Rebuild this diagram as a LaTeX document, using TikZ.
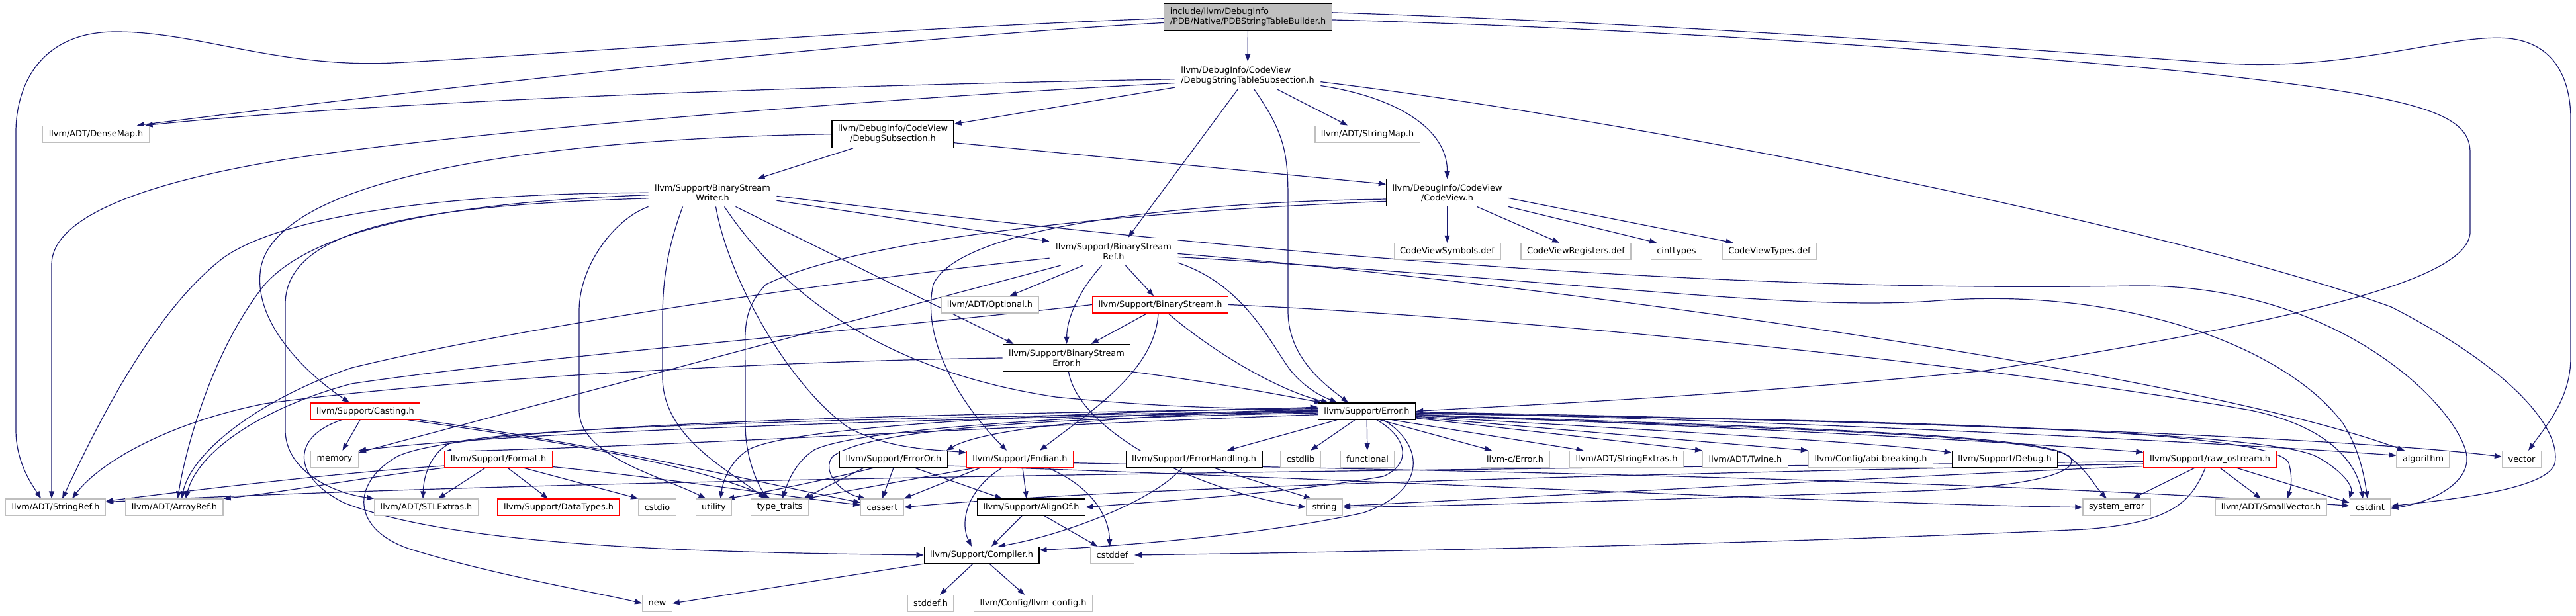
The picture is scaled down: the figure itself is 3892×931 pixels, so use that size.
\documentclass[tikz,border=0pt]{standalone}
\usepackage{fontspec}
\setmainfont{DejaVu Sans}
\usetikzlibrary{arrows.meta, backgrounds}
\definecolor{edgeblue}{HTML}{191970}
\definecolor{sysgray}{HTML}{BFBFBF}

\begin{document}
\begin{tikzpicture}[
    x=1pt, y=-1pt,
    hdr/.style={draw, rectangle, line width=1.3pt, fill=white, inner xsep=9pt, inner ysep=2pt, minimum height=25pt, font=\fontsize{12.86}{15}\selectfont},
    doc/.style={hdr, draw=black},
    trunc/.style={hdr, draw=red},
    sys/.style={hdr, draw=sysgray},
    two/.style={minimum height=41pt, align=center},
    dep/.style={draw=edgeblue, line width=1.2pt, -{Triangle[length=11pt,width=8pt]}}
]
\useasboundingbox (0,0) rectangle (3892,931);

\node[doc, two, fill=sysgray, align=left] (root) at (1885.5,25.5) {include/llvm/DebugInfo\\/PDB/Native/PDBStringTableBuilder.h};
\node[doc, two, align=left] (sub) at (1885,114) {llvm/DebugInfo/CodeView\\/DebugStringTableSubsection.h};

\node[sys] (densemap) at (145,202.7) {llvm/ADT/DenseMap.h};
\node[doc, two] (dsub) at (1349,202.7) {llvm/DebugInfo/CodeView\\/DebugSubsection.h};
\node[sys] (stringmap) at (2066,202.7) {llvm/ADT/StringMap.h};

\node[trunc, two] (writer) at (1076.5,291.3) {llvm/Support/BinaryStream\\Writer.h};
\node[doc, two] (codeview) at (2186.5,291.3) {llvm/DebugInfo/CodeView\\/CodeView.h};

\node[doc, two] (ref) at (1682.5,380) {llvm/Support/BinaryStream\\Ref.h};
\node[sys] (cvsym) at (2186.5,380) {CodeViewSymbols.def};
\node[sys] (cvreg) at (2381,380) {CodeViewRegisters.def};
\node[sys] (cinttypes) at (2533,380) {cinttypes};
\node[sys] (cvtypes) at (2673.5,380) {CodeViewTypes.def};

\node[sys] (optional) at (1495.5,460.5) {llvm/ADT/Optional.h};
\node[trunc] (bstream) at (1753,460.5) {llvm/Support/BinaryStream.h};

\node[doc, two] (bserror) at (1611.5,541) {llvm/Support/BinaryStream\\Error.h};

\node[trunc] (casting) at (552,621.5) {llvm/Support/Casting.h};
\node[doc] (error) at (2065,621.5) {llvm/Support/Error.h};

\node[sys] (memory) at (505.5,694) {memory};
\node[trunc] (format) at (753,694) {llvm/Support/Format.h};
\node[doc] (erroror) at (1350,694) {llvm/Support/ErrorOr.h};
\node[trunc] (endian) at (1541,694) {llvm/Support/Endian.h};
\node[doc] (errhandling) at (1804,694) {llvm/Support/ErrorHandling.h};
\node[sys] (cstdlib) at (1965,694) {cstdlib};
\node[sys] (functional) at (2066,694) {functional};
\node[sys] (cerror) at (2289,694) {llvm-c/Error.h};
\node[sys] (strextras) at (2457.5,694) {llvm/ADT/StringExtras.h};
\node[sys] (twine) at (2637,694) {llvm/ADT/Twine.h};
\node[sys] (abibreak) at (2826.5,694) {llvm/Config/abi-breaking.h};
\node[doc] (debug) at (3029,694) {llvm/Support/Debug.h};
\node[trunc] (rawos) at (3339,694) {llvm/Support/raw\_ostream.h};
\node[sys] (algorithm) at (3661,694) {algorithm};
\node[sys] (vector) at (3810,694) {vector};

\node[sys] (stringref) at (84,766.6) {llvm/ADT/StringRef.h};
\node[sys] (arrayref) at (263.5,766.6) {llvm/ADT/ArrayRef.h};
\node[sys] (stlextras) at (644,766.6) {llvm/ADT/STLExtras.h};
\node[trunc] (datatypes) at (844,766.6) {llvm/Support/DataTypes.h};
\node[sys] (cstdio) at (993,766.6) {cstdio};
\node[sys] (utility) at (1078.5,766.6) {utility};
\node[sys] (typetraits) at (1178,766.6) {type\_traits};
\node[sys] (cassert) at (1333,766.6) {cassert};
\node[doc] (alignof) at (1558,766.6) {llvm/Support/AlignOf.h};
\node[sys] (string) at (2001,766.6) {string};
\node[sys] (syserror) at (3198,766.6) {system\_error};
\node[sys] (smallvec) at (3431,766.6) {llvm/ADT/SmallVector.h};
\node[sys] (cstdint) at (3581,766.6) {cstdint};

\node[doc] (compiler) at (1483,839) {llvm/Support/Compiler.h};
\node[sys] (cstddef) at (1680.5,839) {cstddef};

\node[sys] (new) at (993,912) {new};
\node[sys] (stddef) at (1406,912) {stddef.h};
\node[sys] (llvmconfig) at (1561,912) {llvm/Config/llvm-config.h};

\begin{scope}[on background layer]
\fill[white] (0,0) rectangle (3892,931);

\draw[dep] (root) -- (sub);
\draw[dep] (root.184) .. controls (1300,60) and (600,140) .. (densemap.12);
\draw[dep] (root.181) .. controls (1300,45) and (800,85) .. (594,95) .. controls (420,103) and (300,48) .. (175,48) .. controls (60,48) and (24,130) .. (24,200) -- (24,650) .. controls (24,700) and (50,735) .. ([xshift=-22pt]stringref.north);
\draw[dep] (root.-2) .. controls (2400,40) and (2900,70) .. (3300,108) .. controls (3650,145) and (3732,170) .. (3732,230) -- (3732,350) .. controls (3732,420) and (3500,480) .. (3000,560) .. controls (2600,600) and (2300,612) .. (error.east);
\draw[dep] (root.3) .. controls (2500,35) and (3000,70) .. (3348,95) .. controls (3550,110) and (3700,50) .. (3790,58) .. controls (3860,65) and (3884,120) .. (3884,180) -- (3884,540) .. controls (3884,600) and (3850,640) .. ([xshift=10pt]vector.north);

\draw[dep] (sub.183) .. controls (1300,128) and (600,150) .. (densemap.10);
\draw[dep] (sub.186) .. controls (1300,150) and (700,200) .. (437,240) .. controls (250,270) and (78,320) .. (78,400) -- ([xshift=-6pt]stringref.north);
\draw[dep] (sub) -- (dsub);
\draw[dep] ([xshift=-15pt]sub.south) -- ([xshift=22pt]ref.north);
\draw[dep] ([xshift=10pt]sub.south) .. controls (1940,200) and (1946,230) .. (1946,300) -- (1946,470) .. controls (1946,540) and (2000,580) .. ([xshift=-28pt]error.north);
\draw[dep] ([xshift=45pt]sub.south) -- ([xshift=-30pt]stringmap.north);
\draw[dep] (sub.-8) .. controls (2100,145) and (2187,190) .. (codeview.north);
\draw[dep] (sub.-5) .. controls (2500,185) and (3300,350) .. (3613,464) .. controls (3800,560) and (3870,650) .. (3860,700) .. controls (3850,740) and (3700,755) .. (cstdint.3);

\draw[dep] ([xshift=-60pt]dsub.south) -- ([xshift=68pt]writer.north);
\draw[dep] (dsub.-8) -- (codeview.172);
\draw[dep] (dsub.west) .. controls (800,210) and (420,270) .. (394,405) .. controls (380,490) and (470,570) .. ([xshift=-24pt]casting.north);

\draw[dep] (writer.180) .. controls (650,292) and (420,330) .. (337,390) .. controls (220,480) and (130,680) .. ([xshift=10pt]stringref.north);
\draw[dep] (writer.182) .. controls (700,305) and (480,340) .. (400,430) .. controls (320,530) and (280,680) .. ([xshift=5pt]arrayref.north);
\draw[dep] (writer.185) .. controls (650,310) and (431,340) .. (431,460) -- (431,650) .. controls (431,710) and (500,745) .. (stlextras.north west);
\draw[dep] (writer.-7) -- (ref.171);
\draw[dep] (writer.-3) .. controls (1700,360) and (2500,445) .. (3222,432) .. controls (3520,428) and (3700,600) .. (3725,680) .. controls (3740,730) and (3670,760) .. (cstdint.-3);
\draw[dep] ([xshift=35pt]writer.south) -- ([xshift=-80pt]bserror.north);
\draw[dep] ([xshift=5pt]writer.south) .. controls (1100,420) and (1190,580) .. (1280,645) .. controls (1340,680) and (1420,680) .. (endian.173);
\draw[dep] ([xshift=18pt]writer.south) .. controls (1180,440) and (1330,560) .. (1595,600) .. controls (1800,620) and (1930,618) .. (error.175);
\draw[dep] (writer.south west) .. controls (930,330) and (875,400) .. (875,470) -- (875,620) .. controls (875,690) and (1000,720) .. ([xshift=-12pt]utility.north);
\draw[dep] ([xshift=-45pt]writer.south) .. controls (1010,370) and (1001,420) .. (1001,480) -- (1001,570) .. controls (1001,660) and (1100,710) .. ([xshift=-22pt]typetraits.north);

\draw[dep] (codeview) -- (cvsym);
\draw[dep] ([xshift=45pt]codeview.south) -- ([xshift=-25pt]cvreg.north);
\draw[dep] (codeview.south east) -- ([xshift=-30pt]cinttypes.north);
\draw[dep] (codeview.-5) -- ([xshift=-55pt]cvtypes.north);
\draw[dep] (codeview.186) .. controls (1800,305) and (1450,340) .. (1410,430) .. controls (1390,520) and (1460,620) .. ([xshift=-20pt]endian.north);
\draw[dep] (codeview.188) .. controls (1700,320) and (1300,360) .. (1157,430) .. controls (1120,470) and (1126,500) .. (1126,560) -- (1126,640) .. controls (1126,700) and (1150,740) .. ([xshift=-18pt]typetraits.north);

\draw[dep] ([xshift=-46pt]ref.south) -- ([xshift=30pt]optional.north);
\draw[dep] ([xshift=18pt]ref.south) -- ([xshift=-10pt]bstream.north);
\draw[dep] ([xshift=-18pt]ref.south) .. controls (1630,440) and (1612,480) .. (bserror.north);
\draw[dep] (ref.-10) .. controls (1880,430) and (1920,520) .. (1950,560) .. controls (1975,590) and (2000,600) .. ([xshift=-45pt]error.north);
\draw[dep] (ref.186) .. controls (1300,420) and (800,490) .. (531,556) .. controls (400,600) and (290,680) .. ([xshift=11pt]arrayref.north);
\draw[dep] ([xshift=-80pt]ref.south) -- ([yshift=-3pt]memory.north east);
\draw[dep] (ref.-2) .. controls (2300,425) and (3300,560) .. ([xshift=-28pt]algorithm.north);
\draw[dep] (ref.-5) .. controls (2400,425) and (2700,470) .. (2920,455) .. controls (3200,432) and (3450,520) .. (3540,640) .. controls (3565,680) and (3572,720) .. ([xshift=-4pt]cstdint.north);

\draw[dep] ([xshift=-20pt]bstream.south) -- ([xshift=37pt]bserror.north);
\draw[dep] ([xshift=12pt]bstream.south) .. controls (1830,530) and (1930,590) .. ([xshift=-58pt]error.north);
\draw[dep] ([xshift=-3pt]bstream.south) .. controls (1745,560) and (1650,620) .. ([xshift=30pt]endian.north);
\draw[dep] (bstream.west) .. controls (1300,500) and (800,540) .. (531,580) .. controls (400,615) and (300,680) .. ([xshift=17pt]arrayref.north);
\draw[dep] (bstream.east) .. controls (2300,480) and (3000,550) .. (3400,620) .. controls (3520,645) and (3560,700) .. ([xshift=-11pt]cstdint.north);

\draw[dep] (bserror.-12) .. controls (1850,580) and (1950,600) .. ([xshift=-68pt]error.north);
\draw[dep] ([xshift=3pt]bserror.south) .. controls (1630,650) and (1800,740) .. (string.west);
\draw[dep] (bserror.west) .. controls (1200,545) and (700,570) .. (400,610) .. controls (250,640) and (150,700) .. ([xshift=25pt]stringref.north);

\draw[dep] ([xshift=-8pt]casting.south) -- ([xshift=12pt]memory.north);
\draw[dep] ([xshift=-36pt]casting.south) .. controls (440,660) and (440,720) .. (520,760) .. controls (700,830) and (1100,835) .. (compiler.west);
\draw[dep] ([xshift=64pt]casting.south) .. controls (800,660) and (1050,700) .. ([xshift=-14pt]typetraits.north);
\draw[dep] ([xshift=82pt]casting.south) .. controls (900,670) and (1150,730) .. (cassert.168);

\draw[dep] (format.187) .. controls (500,715) and (260,745) .. (stringref.7);
\draw[dep] (format.south west) .. controls (560,720) and (420,745) .. (arrayref.north east);
\draw[dep] ([xshift=-20pt]format.south) -- ([xshift=18pt]stlextras.north);
\draw[dep] ([xshift=14pt]format.south) -- ([xshift=-16pt]datatypes.north);
\draw[dep] ([xshift=38pt]format.south) -- (cstdio.north west);
\draw[dep] (format.-8) .. controls (1000,722) and (1200,752) .. (cassert.174);

\draw[dep] ([xshift=-30pt]erroror.south) .. controls (1250,725) and (1150,745) .. ([xshift=20pt]utility.north);
\draw[dep] ([xshift=-45pt]erroror.south) -- ([xshift=36pt]typetraits.north);
\draw[dep] (erroror.south) -- (cassert.north);
\draw[dep] ([xshift=32pt]erroror.south) -- ([xshift=-44pt]alignof.north);
\draw[dep] (erroror.-7) .. controls (1900,718) and (2800,762) .. (syserror.west);

\draw[dep] ([xshift=4pt]endian.south) -- ([xshift=-7pt]alignof.north);
\draw[dep] ([xshift=-27pt]endian.south) .. controls (1460,740) and (1450,790) .. ([xshift=-15pt]compiler.north);
\draw[dep] ([xshift=42pt]endian.south) .. controls (1660,740) and (1676,790) .. ([xshift=-4pt]cstddef.north);
\draw[dep] ([xshift=-60pt]endian.south) -- (cassert.north east);
\draw[dep] ([xshift=-68pt]endian.south) -- ([xshift=40pt]typetraits.north);
\draw[dep] (endian.-4) .. controls (2200,712) and (3000,725) .. (cstdint.176);

\draw[dep] ([xshift=-18pt]errhandling.south) .. controls (1740,760) and (1600,810) .. ([xshift=25pt]compiler.north);
\draw[dep] ([xshift=30pt]errhandling.south) -- ([xshift=-20pt]string.north);

\draw[dep] ([xshift=-14pt]alignof.south) -- ([xshift=15pt]compiler.north);
\draw[dep] ([xshift=20pt]alignof.south) -- ([xshift=-22pt]cstddef.north);

\draw[dep] (compiler.south west) -- (new.east);
\draw[dep] ([xshift=-13pt]compiler.south) -- ([xshift=14pt]stddef.north);
\draw[dep] ([xshift=12pt]compiler.south) -- ([xshift=-13pt]llvmconfig.north);

\draw[dep] ([xshift=-23pt]rawos.south) -- ([xshift=24pt]syserror.north);
\draw[dep] ([xshift=15pt]rawos.south) -- ([xshift=-15pt]smallvec.north);
\draw[dep] ([xshift=40pt]rawos.south) -- (cstdint.168);
\draw[dep] ([xshift=-7pt]rawos.south) .. controls (3310,760) and (3280,790) .. (3150,800) .. controls (2600,825) and (2000,835) .. (cstddef.east);
\draw[dep] (rawos.182) .. controls (2000,712) and (900,722) .. (stringref.6);
\draw[dep] (rawos.184) .. controls (2500,716) and (1700,735) .. (cassert.east);
\draw[dep] (rawos.186) .. controls (2900,718) and (2300,752) .. (string.4);

\draw[dep] (error.180) .. controls (1800,622) and (1500,640) .. ([xshift=-2pt]erroror.north east);
\draw[dep] (error.182) .. controls (1700,630) and (1320,640) .. (1258,690) .. controls (1240,712) and (1270,745) .. ([xshift=-25pt]cassert.north);
\draw[dep] (error.178) .. controls (1700,625) and (1300,645) .. (1230,680) .. controls (1200,700) and (1190,730) .. ([xshift=4pt]typetraits.north);
\draw[dep] (error.176) .. controls (1700,620) and (1200,640) .. (1130,680) .. controls (1100,700) and (1092,730) .. ([xshift=10pt]utility.north);
\draw[dep] (error.179) .. controls (1500,630) and (800,640) .. (680,670) .. controls (650,685) and (640,720) .. ([xshift=-5pt]stlextras.north);
\draw[dep] (error.181) .. controls (1500,630) and (800,650) .. (memory.north east);
\draw[dep] (error.184) .. controls (1600,640) and (1000,675) .. (format.172);
\draw[dep] (error.177) .. controls (1400,625) and (700,640) .. (600,690) .. controls (530,730) and (530,800) .. (620,830) .. controls (750,870) and (900,895) .. (new.west);
\draw[dep] ([xshift=-45pt]error.south) -- ([xshift=50pt]errhandling.north);
\draw[dep] ([xshift=-18pt]error.south) -- ([xshift=15pt]cstdlib.north);
\draw[dep] (error) -- (functional);
\draw[dep] ([xshift=20pt]error.south) -- ([xshift=-35pt]cerror.north);
\draw[dep] ([xshift=38pt]error.south) -- ([xshift=-65pt]strextras.north);
\draw[dep] ([xshift=15pt]error.south) .. controls (2125,660) and (2135,700) .. (2090,720) .. controls (1950,745) and (1750,758) .. (alignof.east);
\draw[dep] ([xshift=25pt]error.south) .. controls (2150,670) and (2160,740) .. (2060,775) .. controls (1900,810) and (1680,826) .. (compiler.5);
\draw[dep] (error.-8.5) -- (twine.north west);
\draw[dep] (error.-7) -- (abibreak.north west);
\draw[dep] (error.-6) .. controls (2500,650) and (2850,670) .. (debug.173);
\draw[dep] (error.-5) .. controls (2600,645) and (3080,655) .. (3127,690) .. controls (3145,712) and (3080,735) .. (2900,742) .. controls (2500,755) and (2200,765) .. (string.east);
\draw[dep] (error.-4.5) .. controls (2600,642) and (3060,655) .. (3118,685) .. controls (3150,705) and (3165,735) .. ([xshift=-15pt]syserror.north);
\draw[dep] (error.-4) .. controls (2500,640) and (3000,665) .. (rawos.174);
\draw[dep] (error.-3) .. controls (2900,635) and (3440,650) .. (3458,700) .. controls (3465,725) and (3460,740) .. ([xshift=25pt]smallvec.north);
\draw[dep] (error.-2.5) .. controls (2800,636) and (3420,650) .. (3500,690) .. controls (3540,712) and (3555,735) .. (cstdint.north west);
\draw[dep] (error.-2) .. controls (2600,632) and (3300,665) .. (algorithm.172);
\draw[dep] (error.-1) .. controls (2600,630) and (3500,655) .. (vector.173);
\end{scope}
\end{tikzpicture}
\end{document}
